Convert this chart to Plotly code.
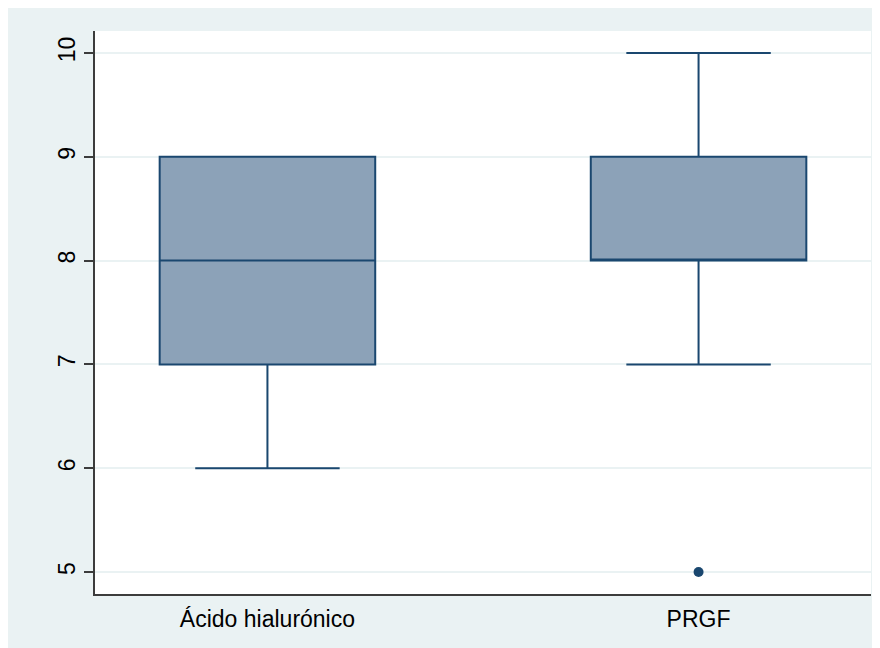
import plotly.graph_objects as go

categories = ["Ácido hialurónico", "PRGF"]
lower_fence = [6, 7]
q1 = [7, 8]
median = [8, 8]
q3 = [9, 9]
upper_fence = [9, 10]
outlier_cat = [1]
outlier_val = [5]
y_ticks = [5, 6, 7, 8, 9, 10]

NAVY = "#1A476F"
FILL = "#8CA2B8"
BG = "#EAF2F3"
FONT = "Liberation Sans, Arial, sans-serif"

fig = go.Figure()
fig.add_trace(go.Box(
    x=list(range(len(categories))),
    q1=q1, median=median, q3=q3,
    lowerfence=lower_fence, upperfence=upper_fence,
    width=0.5, whiskerwidth=0.67,
    fillcolor=FILL,
    line=dict(color=NAVY, width=2),
    boxpoints=False,
    showlegend=False,
))
fig.add_trace(go.Scatter(
    x=outlier_cat, y=outlier_val, mode="markers",
    marker=dict(color=NAVY, size=10),
    showlegend=False,
))

fig.update_layout(
    width=880, height=648,
    margin=dict(l=87, r=17, t=23, b=62),
    paper_bgcolor=BG,
    plot_bgcolor="white",
    font=dict(family=FONT, size=23, color="black"),
    xaxis=dict(
        range=[-0.4, 1.4],
        tickmode="array", tickvals=list(range(len(categories))), ticktext=categories,
        showgrid=False, zeroline=False,
        showline=True, linecolor="#3C3C3C", linewidth=1.5,
        ticks="", ticklabelstandoff=4,
    ),
    yaxis=dict(
        range=[4.788, 10.212],
        tickmode="array", tickvals=y_ticks,
        tickangle=-90,
        tickfont=dict(size=23),
        showgrid=True, gridcolor=BG, gridwidth=1.5,
        zeroline=False,
        showline=True, linecolor="#3C3C3C", linewidth=1.5,
        ticks="outside", ticklen=9, tickwidth=1.5, tickcolor="#3C3C3C",
        ticklabelstandoff=0,
    ),
)

fig.write_html("out.html")
